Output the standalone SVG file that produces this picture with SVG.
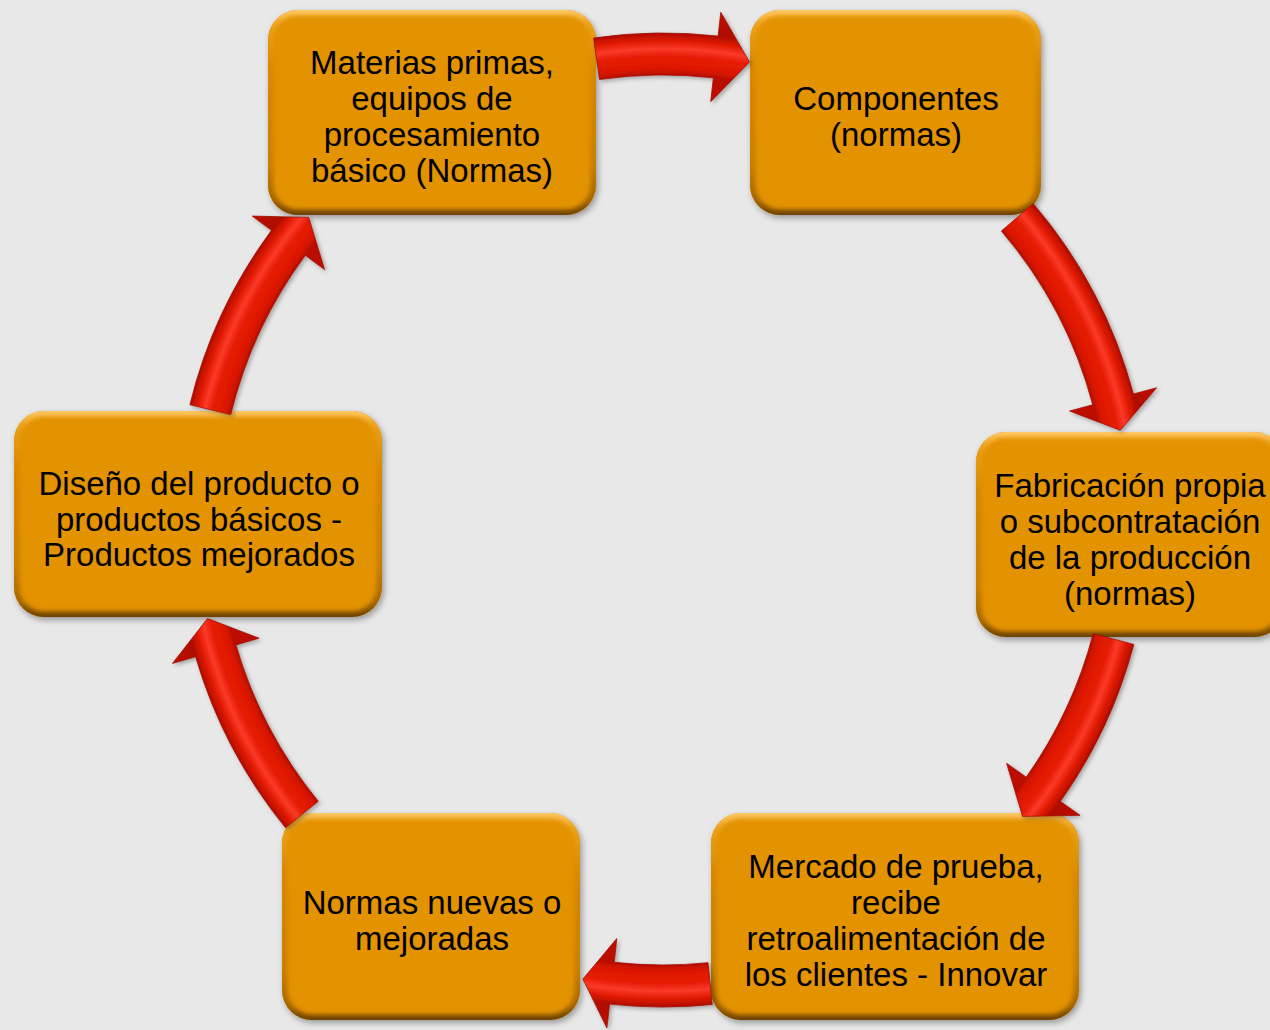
<svg xmlns="http://www.w3.org/2000/svg" width="1270" height="1030" viewBox="0 0 1270 1030">
<defs>
<style>
.box{fill:#e39200;}
.bevel{fill:none;stroke:url(#bev);stroke-width:11;filter:url(#blur);}
.lbl{font-family:"Liberation Sans",Arial,sans-serif;font-size:33px;fill:#000;text-anchor:middle;}
.arr{fill:url(#tube);stroke:#a01000;stroke-width:0.8;filter:url(#ash);}
</style>
<linearGradient id="bev" x1="0" y1="0" x2="0" y2="1">
<stop offset="0" stop-color="#ffca66"/>
<stop offset="0.07" stop-color="#eba21c"/>
<stop offset="0.3" stop-color="#d58800"/>
<stop offset="0.75" stop-color="#c97f00"/>
<stop offset="0.93" stop-color="#a46600"/>
<stop offset="1" stop-color="#6a4000"/>
</linearGradient>
<radialGradient id="tube" gradientUnits="userSpaceOnUse" cx="663" cy="520" r="515">
<stop offset="0.80" stop-color="#c41200"/>
<stop offset="0.864" stop-color="#b80e00"/>
<stop offset="0.877" stop-color="#dc1800"/>
<stop offset="0.90" stop-color="#e61c06"/>
<stop offset="0.915" stop-color="#fb3a28"/>
<stop offset="0.93" stop-color="#e01a02"/>
<stop offset="0.946" stop-color="#ae0c00"/>
<stop offset="1" stop-color="#c41200"/>
</radialGradient>
<filter id="sh" x="-10%" y="-10%" width="125%" height="130%">
<feDropShadow dx="2" dy="3" stdDeviation="3" flood-color="#000" flood-opacity="0.35"/>
</filter>
<filter id="ash" x="-20%" y="-20%" width="140%" height="140%">
<feDropShadow dx="2" dy="2" stdDeviation="2" flood-color="#000" flood-opacity="0.3"/>
</filter>
<filter id="blur" x="-5%" y="-5%" width="110%" height="110%">
<feGaussianBlur stdDeviation="2"/>
</filter>
<clipPath id="c1"><rect x="268" y="10" width="328" height="205" rx="30"/></clipPath>
<clipPath id="c2"><rect x="750" y="10" width="291" height="205" rx="30"/></clipPath>
<clipPath id="c3"><rect x="976" y="432" width="308" height="205" rx="30"/></clipPath>
<clipPath id="c4"><rect x="711" y="813" width="368" height="207" rx="30"/></clipPath>
<clipPath id="c5"><rect x="282" y="813" width="298" height="207" rx="30"/></clipPath>
<clipPath id="c6"><rect x="14" y="411" width="368" height="206" rx="30"/></clipPath>
</defs>
<rect x="0" y="0" width="1270" height="1030" fill="#e8e8e8"/>

<g id="n1">
<rect class="box" x="268" y="10" width="328" height="205" rx="30" filter="url(#sh)"/>
<g clip-path="url(#c1)"><rect class="bevel" x="268" y="10" width="328" height="205" rx="30"/></g>
<text class="lbl" x="432" y="74">Materias primas,</text>
<text class="lbl" x="432" y="110">equipos de</text>
<text class="lbl" x="432" y="146">procesamiento</text>
<text class="lbl" x="432" y="182">básico (Normas)</text>
</g>
<g id="n2">
<rect class="box" x="750" y="10" width="291" height="205" rx="30" filter="url(#sh)"/>
<g clip-path="url(#c2)"><rect class="bevel" x="750" y="10" width="291" height="205" rx="30"/></g>
<text class="lbl" x="896" y="110">Componentes</text>
<text class="lbl" x="896" y="146">(normas)</text>
</g>
<g id="n3">
<rect class="box" x="976" y="432" width="308" height="205" rx="30" filter="url(#sh)"/>
<g clip-path="url(#c3)"><rect class="bevel" x="976" y="432" width="308" height="205" rx="30"/></g>
<text class="lbl" x="1130" y="497">Fabricación propia</text>
<text class="lbl" x="1130" y="533">o subcontratación</text>
<text class="lbl" x="1130" y="569">de la producción</text>
<text class="lbl" x="1130" y="605">(normas)</text>
</g>
<g id="n4">
<rect class="box" x="711" y="813" width="368" height="207" rx="30" filter="url(#sh)"/>
<g clip-path="url(#c4)"><rect class="bevel" x="711" y="813" width="368" height="207" rx="30"/></g>
<text class="lbl" x="896" y="878">Mercado de prueba,</text>
<text class="lbl" x="896" y="914">recibe</text>
<text class="lbl" x="896" y="950">retroalimentación de</text>
<text class="lbl" x="896" y="986">los clientes - Innovar</text>
</g>
<g id="n5">
<rect class="box" x="282" y="813" width="298" height="207" rx="30" filter="url(#sh)"/>
<g clip-path="url(#c5)"><rect class="bevel" x="282" y="813" width="298" height="207" rx="30"/></g>
<text class="lbl" x="432" y="914">Normas nuevas o</text>
<text class="lbl" x="432" y="950">mejoradas</text>
</g>
<g id="n6">
<rect class="box" x="14" y="411" width="368" height="206" rx="30" filter="url(#sh)"/>
<g clip-path="url(#c6)"><rect class="bevel" x="14" y="411" width="368" height="206" rx="30"/></g>
<text class="lbl" x="199" y="495">Diseño del producto o</text>
<text class="lbl" x="199" y="531">productos básicos -</text>
<text class="lbl" x="199" y="566">Productos mejorados</text>
</g>

<g id="connectors">
<path class="arr" d="M593.6,38 A487,487 0 0 1 718.1,36.1 L720.8,12.3 L749.5,62.1 L710.7,101.7 L713.4,77.8 A445,445 0 0 0 599.5,79.5 Z"/>
<path class="arr" d="M1033.3,203.7 A487,487 0 0 1 1133.4,394 L1156.6,387.8 L1120.3,430.3 L1069.6,411 L1092.8,404.8 A445,445 0 0 0 1001.4,231 Z"/>
<path class="arr" d="M1133.8,644.4 A487,487 0 0 1 1060.4,801.4 L1080,815.3 L1022.6,816.4 L1006.6,763.3 L1026.2,777.2 A445,445 0 0 0 1093.2,633.7 Z"/>
<path class="arr" d="M712.2,1004.5 A487,487 0 0 1 609.6,1004.1 L606.9,1027.9 L582.9,979.1 L616.8,938.5 L614.2,962.3 A445,445 0 0 0 708,962.7 Z"/>
<path class="arr" d="M285.6,827.8 A487,487 0 0 1 195.6,656.7 L172.5,663.4 L207.5,618.5 L258.9,638.2 L235.9,644.9 A445,445 0 0 0 318.2,801.2 Z"/>
<path class="arr" d="M189.9,404.7 A487,487 0 0 1 271.5,230.3 L252.2,216.1 L308.7,217.4 L324.6,269.6 L305.3,255.3 A445,445 0 0 0 230.7,414.6 Z"/>
</g>
</svg>
